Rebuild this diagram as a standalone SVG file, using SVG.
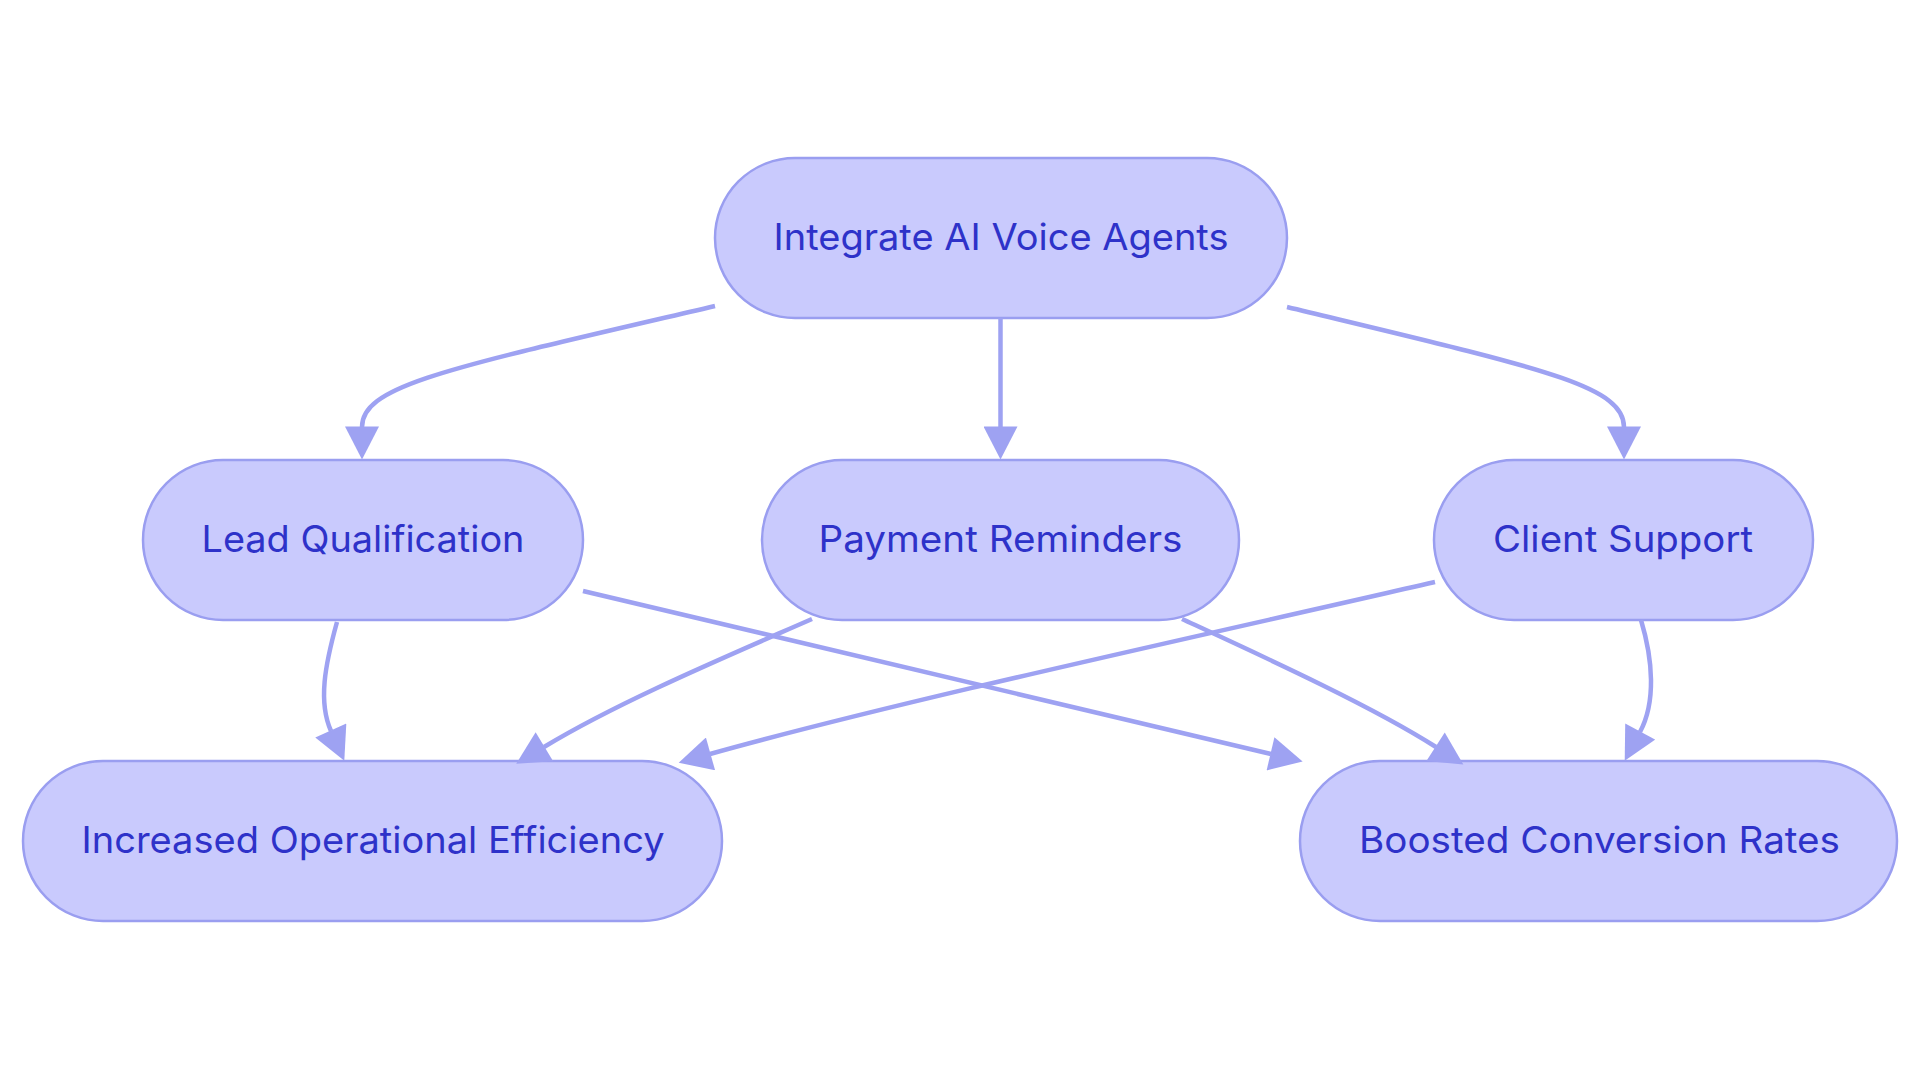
<svg xmlns="http://www.w3.org/2000/svg" width="1920" height="1083" viewBox="0 0 1920 1083">
  <style>
    .node rect { fill: #C9CAFD; stroke: #9A9EF0; stroke-width: 2.5; }
    .node text { fill: #2E32C9; font-family: "Inter", "Noto Sans", "Liberation Sans", sans-serif; font-size: 37px; font-weight: 400; text-anchor: middle; }
    .edge { fill: none; stroke: #9EA2F2; stroke-width: 4.5; }
  </style>
  <defs>
    <marker id="arrow" markerUnits="userSpaceOnUse" markerWidth="34" markerHeight="34" viewBox="0 0 33 34" refX="0.5" refY="17" orient="auto">
      <path d="M0,0 L33,17 L0,34 Z" fill="#9EA2F2"/>
    </marker>
  </defs>
  <rect x="0" y="0" width="1920" height="1083" fill="#FFFFFF"/>

  <g id="node-integrate" class="node">
    <rect x="715" y="158" width="572" height="160" rx="80" ry="80"/>
    <text x="1001" y="250" textLength="455" lengthAdjust="spacingAndGlyphs">Integrate AI Voice Agents</text>
  </g>
  <g id="node-lead" class="node">
    <rect x="143" y="460" width="440" height="160" rx="80" ry="80"/>
    <text x="363" y="552" textLength="323" lengthAdjust="spacingAndGlyphs">Lead Qualification</text>
  </g>
  <g id="node-payment" class="node">
    <rect x="762" y="460" width="477" height="160" rx="80" ry="80"/>
    <text x="1000.5" y="552" textLength="364" lengthAdjust="spacingAndGlyphs">Payment Reminders</text>
  </g>
  <g id="node-client" class="node">
    <rect x="1434" y="460" width="379" height="160" rx="80" ry="80"/>
    <text x="1623" y="552" textLength="260" lengthAdjust="spacingAndGlyphs">Client Support</text>
  </g>
  <g id="node-efficiency" class="node">
    <rect x="23" y="761" width="699" height="160" rx="80" ry="80"/>
    <text x="373" y="853" textLength="583" lengthAdjust="spacingAndGlyphs">Increased Operational Efficiency</text>
  </g>
  <g id="node-conversion" class="node">
    <rect x="1300" y="761" width="597" height="160" rx="80" ry="80"/>
    <text x="1599.5" y="853" textLength="481" lengthAdjust="spacingAndGlyphs">Boosted Conversion Rates</text>
  </g>

  <g id="connectors">
    <path class="edge" marker-end="url(#arrow)" d="M715,306 C450,368 362,385 362,427"/>
    <path class="edge" marker-end="url(#arrow)" d="M1000.5,318 L1000.5,427"/>
    <path class="edge" marker-end="url(#arrow)" d="M1287,307 C1540,368 1624,385 1624,427"/>
    <path class="edge" marker-end="url(#arrow)" d="M337,622 C325,665 318,702 331,731"/>
    <path class="edge" marker-end="url(#arrow)" d="M583,591 L1271,754"/>
    <path class="edge" marker-end="url(#arrow)" d="M812,619 C730,655 620,701 544,747"/>
    <path class="edge" marker-end="url(#arrow)" d="M1182,619 C1260,655 1372,706 1436,747"/>
    <path class="edge" marker-end="url(#arrow)" d="M1435,582 C1200,636 900,701 710,754"/>
    <path class="edge" marker-end="url(#arrow)" d="M1641,620 C1653,660 1656,702 1640,732"/>
  </g>
</svg>
